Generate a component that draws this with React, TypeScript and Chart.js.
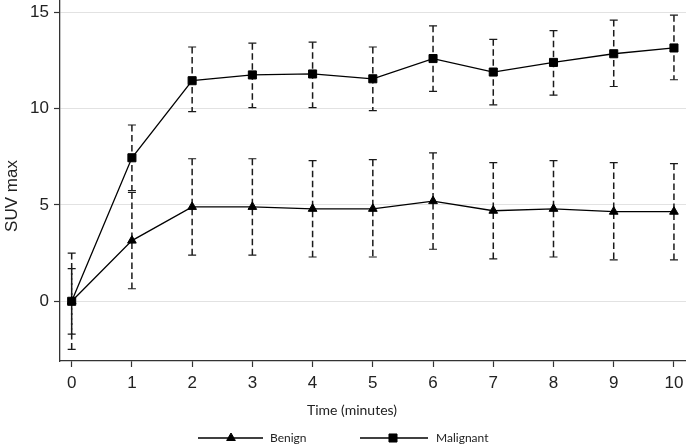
import React, { useEffect, useRef } from 'react';
import { Chart, registerables } from 'chart.js';
import { drawPoint } from 'chart.js/helpers';

Chart.register(...registerables);

const times = [0, 1, 2, 3, 4, 5, 6, 7, 8, 9, 10];

const benignMean = [0, 3.15, 4.9, 4.9, 4.8, 4.8, 5.2, 4.7, 4.8, 4.65, 4.65];
const benignUpper = [2.5, 5.65, 7.4, 7.4, 7.3, 7.35, 7.7, 7.2, 7.3, 7.2, 7.15];
const benignLower = [-2.5, 0.65, 2.4, 2.4, 2.3, 2.3, 2.7, 2.2, 2.3, 2.15, 2.15];

const malignantMean = [0, 7.45, 11.45, 11.75, 11.8, 11.55, 12.6, 11.9, 12.4, 12.85, 13.15];
const malignantUpper = [1.7, 9.15, 13.2, 13.4, 13.45, 13.2, 14.3, 13.6, 14.05, 14.6, 14.85];
const malignantLower = [-1.7, 5.75, 9.85, 10.05, 10.05, 9.9, 10.9, 10.2, 10.7, 11.15, 11.5];

const yTicks = [0, 5, 10, 15];
const seriesLabels = ['Benign', 'Malignant'];
const xTitle = 'Time (minutes)';
const yTitle = 'SUV max';

const TICK_FONT = { family: 'Liberation Sans, Arial, sans-serif', size: 17 };

const errorBarPlugin = {
  id: 'errorBars',
  beforeDatasetsDraw(chart: any) {
    const { ctx } = chart;
    const xs = chart.scales.x;
    const ys = chart.scales.y;
    const sets = [
      [benignUpper, benignLower],
      [malignantUpper, malignantLower],
    ];
    ctx.save();
    ctx.strokeStyle = '#1a1a1a';
    sets.forEach(([up, lo]) => {
      times.forEach((t, i) => {
        const px = xs.getPixelForValue(t);
        const pt = ys.getPixelForValue(up[i]);
        const pb = ys.getPixelForValue(lo[i]);
        ctx.lineWidth = 1.5;
        ctx.setLineDash([6.5, 3.5]);
        ctx.beginPath();
        ctx.moveTo(px, pt);
        ctx.lineTo(px, pb);
        ctx.stroke();
        ctx.setLineDash([]);
        ctx.lineWidth = 1.2;
        ctx.beginPath();
        ctx.moveTo(px - 4, pt);
        ctx.lineTo(px + 4, pt);
        ctx.moveTo(px - 4, pb);
        ctx.lineTo(px + 4, pb);
        ctx.stroke();
      });
    });
    ctx.restore();
  },
};

const annotationPlugin = {
  id: 'annotations',
  afterDraw(chart: any) {
    const { ctx } = chart;
    ctx.save();
    // x title
    ctx.fillStyle = '#222';
    ctx.font = '14px Lato, "Open Sans", sans-serif';
    ctx.textAlign = 'center';
    ctx.textBaseline = 'middle';
    ctx.fillText(xTitle, 352, 410);
    // y title
    ctx.save();
    ctx.translate(12, 196);
    ctx.rotate(-Math.PI / 2);
    ctx.font = '17px "Liberation Sans", Arial, sans-serif';
    ctx.fillText(yTitle, 0, 0);
    ctx.restore();
    // legend
    const ly = 438;
    const entries = [
      { x0: 198, x1: 263, mx: 231, tx: 270, style: 'triangle', r: 5 },
      { x0: 360, x1: 428, mx: 393, tx: 436, style: 'rect', r: 5.7 },
    ];
    entries.forEach((e, i) => {
      ctx.strokeStyle = '#000';
      ctx.fillStyle = '#000';
      ctx.lineWidth = 1.3;
      ctx.beginPath();
      ctx.moveTo(e.x0, ly);
      ctx.lineTo(e.x1, ly);
      ctx.stroke();
      ctx.lineWidth = 1;
      drawPoint(ctx, { pointStyle: e.style, radius: e.r, rotation: 0, borderWidth: 1 } as any, e.mx, ly);
      ctx.fillStyle = '#222';
      ctx.font = '12px Lato, "Open Sans", sans-serif';
      ctx.textAlign = 'left';
      ctx.textBaseline = 'middle';
      ctx.fillText(seriesLabels[i], e.tx, ly);
    });
    ctx.restore();
  },
};

export default function App() {
  const ref = useRef<HTMLCanvasElement>(null);

  useEffect(() => {
    if (!ref.current) return;
    const chart = new Chart(ref.current, {
      type: 'line',
      data: {
        datasets: [
          {
            label: seriesLabels[0],
            data: times.map((t, i) => ({ x: t, y: benignMean[i] })),
            borderColor: '#000',
            backgroundColor: '#000',
            borderWidth: 1.3,
            pointStyle: 'triangle',
            pointRadius: 5,
            pointBorderWidth: 1,
            pointBackgroundColor: '#000',
            pointBorderColor: '#000',
            tension: 0,
          },
          {
            label: seriesLabels[1],
            data: times.map((t, i) => ({ x: t, y: malignantMean[i] })),
            borderColor: '#000',
            backgroundColor: '#000',
            borderWidth: 1.3,
            pointStyle: 'rect',
            pointRadius: 5.7,
            pointBorderWidth: 1,
            pointBackgroundColor: '#000',
            pointBorderColor: '#000',
            tension: 0,
          },
        ],
      },
      options: {
        responsive: false,
        maintainAspectRatio: false,
        animation: false,
        devicePixelRatio: 1,
        layout: { padding: 0, autoPadding: false },
        plugins: {
          legend: { display: false },
          tooltip: { enabled: false },
        },
        scales: {
          x: {
            type: 'linear',
            min: -0.194,
            max: 10.2,
            ticks: {
              stepSize: 1,
              font: TICK_FONT,
              color: '#222',
              padding: 6,
              maxRotation: 0,
              autoSkip: false,
            },
            afterBuildTicks: (s: any) => {
              s.ticks = times.map((t) => ({ value: t }));
            },
            grid: {
              drawOnChartArea: false,
              tickLength: 6,
              tickColor: '#333',
              tickWidth: 1.2,
            },
            border: { color: '#333', width: 1.3 },
            afterFit: (s: any) => {
              s.height = 86;
              s.paddingLeft = 0;
              s.paddingRight = 0;
            },
          },
          y: {
            type: 'linear',
            min: -3.1,
            max: 15.64,
            ticks: {
              stepSize: 5,
              font: TICK_FONT,
              color: '#222',
              padding: 5,
            },
            afterBuildTicks: (s: any) => {
              s.ticks = yTicks.map((v) => ({ value: v }));
            },
            grid: {
              color: '#e2e2e2',
              lineWidth: 1,
              tickLength: 6,
              tickColor: '#333',
              tickWidth: 1.2,
            },
            border: { color: '#333', width: 1.3 },
            afterFit: (s: any) => {
              s.width = 60;
              s.paddingTop = 0;
              s.paddingBottom = 0;
            },
          },
        },
      },
      plugins: [errorBarPlugin, annotationPlugin],
    });
    return () => chart.destroy();
  }, []);

  return (
    <div style={{ position: 'fixed', left: 0, top: 0, width: 686, height: 447, background: '#fff' }}>
      <canvas ref={ref} width={686} height={447} style={{ display: 'block' }} />
    </div>
  );
}
